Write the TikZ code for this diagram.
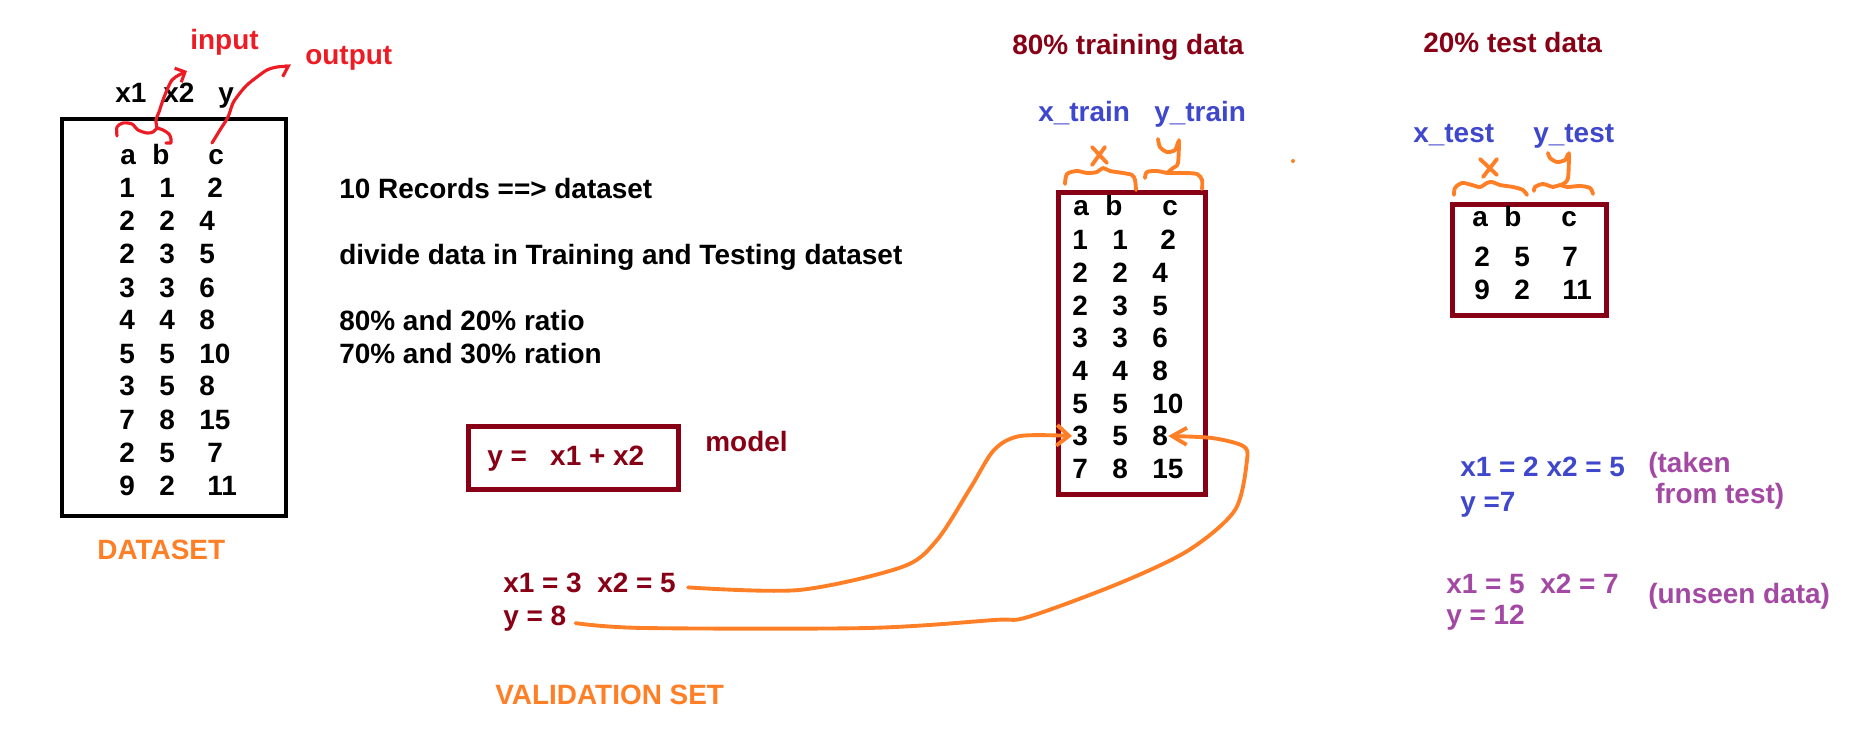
\documentclass[tikz,border=0pt]{standalone}
\usepackage{fontspec}
\setmainfont{Liberation Sans}
\usepackage{tikz}
\usetikzlibrary{positioning, arrows.meta}
\usepackage{xcolor}

\definecolor{pdarkred}{RGB}{136,0,21}
\definecolor{pred}{RGB}{237,28,36}
\definecolor{porange}{RGB}{255,127,39}
\definecolor{pindigo}{RGB}{63,72,204}
\definecolor{ppurple}{RGB}{163,73,164}

\tikzset{
    txt/.style={anchor=base west, inner sep=0pt, font=\fontsize{15.9}{19}\selectfont\bfseries},
    redpen/.style={draw=pred, line width=1.8pt, line cap=round, line join=round},
    orangepen/.style={draw=porange, line width=2.2pt, line cap=round, line join=round},
    frame/.style={line width=2.85pt},
}

\begin{document}
\begin{tikzpicture}[x=0.02cm, y=-0.02cm]
    \useasboundingbox (0,0) rectangle (1850,743);

    % Full dataset
    \draw[frame, line width=2.28pt] (62,119) rectangle (286,516);
    \node[txt] (dsx1) at (115,103) {x1};
    \node[txt] (dsx2) at (163,103) {x2};
    \node[txt] (dsy) at (218,103) {y};
    \node[txt] (dsha) at (120,165) {a};
    \node[txt] (dshb) at (152,165) {b};
    \node[txt] (dshc) at (208,165) {c};
    \foreach \a/\b/\c/\cx [count=\i] in {1/1/2/208, 2/2/4/200, 2/3/5/200, 3/3/6/200, 4/4/8/200,
        5/5/10/200, 3/5/8/200, 7/8/15/200, 2/5/7/208, 9/2/11/208}{
        \node[txt] (ds-\i-a) at (119,{165+33*\i}) {\a};
        \node[txt] (ds-\i-b) at (159,{165+33*\i}) {\b};
        \node[txt] (ds-\i-c) at (\cx-1,{165+33*\i}) {\c};
    }
    \node[txt, porange] (dslabel) at (97,559) {DATASET};

    % input / output marks
    \node[txt, pred] (input) at (190,50) {input};
    \node[txt, pred] (output) at (305,65) {output};
    \coordinate (xbrace) at (157,128);
    \coordinate (inputtip) at (187,71);
    \coordinate (ybot) at (212,143);
    \coordinate (outputtip) at (291,66);
    \draw[redpen] plot[smooth] coordinates {(117,136) (117,127) (123,123) (132,124) (138,130)
        (147,133) (153,132) (xbrace)};
    \draw[redpen] plot[smooth] coordinates {(xbrace) (163,130) (169,134) (171,139) (171,143)} -- (166,143);
    \draw[redpen, -{Straight Barb[angle=90:0.22cm]}] plot[smooth] coordinates {(xbrace) (156,120)
        (159,112) (163,100) (167,90) (172,80) (179,75) (inputtip)};
    \draw[redpen, -{Straight Barb[harpoon, swap, angle=120:0.24cm]}] plot[smooth] coordinates {(ybot)
        (220,130) (228,117) (233,103) (240,93) (247,85) (257,77) (267,70) (277,67) (outputtip)};

    % Notes
    \node[txt] (records) at (339,199) {10 Records ==> dataset};
    \node[txt] (divide) at (339,265) {divide data in Training and Testing dataset};
    \node[txt] (ratio1) at (339,331) {80\% and 20\% ratio};
    \node[txt] (ratio2) at (339,363) {70\% and 30\% ration};

    % Model
    \draw[frame, pdarkred] (468.5,426.5) rectangle (678.5,489.5);
    \node[txt, pdarkred] (formula) at (487,465) {y =\ \ \ x1 + x2};
    \node[txt, pdarkred] (model) at (705,451) {model};

    % Validation
    \node[txt, pdarkred] (val1) at (503,592) {x1 = 3\ \ x2 = 5};
    \node[txt, pdarkred] (val2) at (503,625) {y = 8};
    \node[txt, porange] (vallabel) at (495,704) {VALIDATION SET};

    % Training data
    \node[txt, pdarkred] (trtitle) at (1012,55) {80\% training data};
    \node[txt, pindigo] (xtrain) at (1038,122) {x\_train};
    \node[txt, pindigo] (ytrain) at (1154,122) {y\_train};
    \draw[frame, pdarkred] (1058.5,192.5) rectangle (1205.5,494.5);
    \node[txt] (trha) at (1073,216) {a};
    \node[txt] (trhb) at (1105,216) {b};
    \node[txt] (trhc) at (1162,216) {c};
    \foreach \a/\b/\c/\cx [count=\i] in {1/1/2/1161, 2/2/4/1153, 2/3/5/1153, 3/3/6/1153,
        4/4/8/1153, 5/5/10/1153, 3/5/8/1153, 7/8/15/1153}{
        \node[txt] (tr-\i-a) at (1072,{217.4+32.6*\i}) {\a};
        \node[txt] (tr-\i-b) at (1112,{217.4+32.6*\i}) {\b};
        \node[txt] (tr-\i-c) at (\cx-1,{217.4+32.6*\i}) {\c};
    }
    % hand drawn braces
    \draw[orangepen] plot[smooth] coordinates {(1065,184) (1067,174) (1077,171) (1087,173) (1097,172)
        (1103,168) (1110,171) (1123,173) (1132,175) (1135,180) (1136,190)};
    \draw[orangepen] (1092,147) -- (1107,163) (1105,147) -- (1092,165);
    \draw[orangepen] plot[smooth] coordinates {(1145,178) (1147,172) (1157,171) (1167,173) (1172,173)
        (1183,173) (1197,174) (1202,180) (1202,189)};
    \draw[orangepen] plot[smooth] coordinates {(1158,139) (1160,147) (1167,152) (1175,150) (1178,142)};
    \draw[orangepen] plot[smooth] coordinates {(1179,140) (1178,163) (1173,168) (1167,173)};
    \fill[porange] (1293,161) circle (2);

    % Test data
    \node[txt, pdarkred] (tetitle) at (1423,53) {20\% test data};
    \node[txt, pindigo] (xtest) at (1413,143) {x\_test};
    \node[txt, pindigo] (ytest) at (1533,143) {y\_test};
    \draw[frame, pdarkred] (1452.5,204.5) rectangle (1606.5,315.5);
    \node[txt] (teha) at (1472,227) {a};
    \node[txt] (tehb) at (1504,227) {b};
    \node[txt] (tehc) at (1561,227) {c};
    \foreach \a/\b/\c/\y [count=\i] in {2/5/7/267, 9/2/11/299}{
        \node[txt] (te-\i-a) at (1474,\y) {\a};
        \node[txt] (te-\i-b) at (1514,\y) {\b};
        \node[txt] (te-\i-c) at (1562,\y) {\c};
    }
    \draw[orangepen] plot[smooth] coordinates {(1454,195) (1455,188) (1462,183) (1472,185) (1480,187)
        (1487,183) (1492,182) (1500,185) (1513,187) (1523,190) (1527,195)};
    \draw[orangepen] (1480,159) -- (1497,175) (1497,159) -- (1483,177);
    \draw[orangepen] plot[smooth] coordinates {(1534,191) (1535,187) (1543,184) (1553,187) (1560,185)
        (1567,187) (1580,186) (1590,188) (1593,194)};
    \draw[orangepen] plot[smooth] coordinates {(1548,153) (1550,158) (1557,162) (1565,160) (1568,154)};
    \draw[orangepen] plot[smooth] coordinates {(1569,153) (1568,178) (1563,184) (1560,185)};

    % Checks on the model
    \node[txt, pindigo] (test1) at (1460,476) {x1 = 2 x2 = 5};
    \node[txt, pindigo] (test2) at (1460,511) {y =7};
    \node[txt, ppurple] (taken1) at (1648,472) {(taken};
    \node[txt, ppurple] (taken2) at (1655,503) {from test)};
    \node[txt, ppurple] (new1) at (1446,593) {x1 = 5\ \ x2 = 7};
    \node[txt, ppurple] (new2) at (1446,624) {y = 12};
    \node[txt, ppurple] (unseen) at (1648,603) {(unseen data)};

    % validation rows looked up in training data
    \coordinate (v1out) at ([xshift=0.24cm, yshift=-0.1cm]val1.east);
    \coordinate (v2out) at ([xshift=0.18cm, yshift=-0.1cm]val2.east);
    \draw[orangepen, -{Straight Barb[angle=80:0.32cm]}] plot[smooth] coordinates {(v1out) (799,590)
        (902,567) (937,540) (971,487) (994,450) (1020,436) (tr-7-a.west)};
    \draw[orangepen, -{Straight Barb[angle=60:0.34cm]}] plot[smooth] coordinates {(v2out) (644,628)
        (868,628) (994,620) (1028,617) (1120,583) (1189,550) (1235,510) (1247,460) (1243,446)
        (1212,438) (tr-7-c.east)};
\end{tikzpicture}
\end{document}
